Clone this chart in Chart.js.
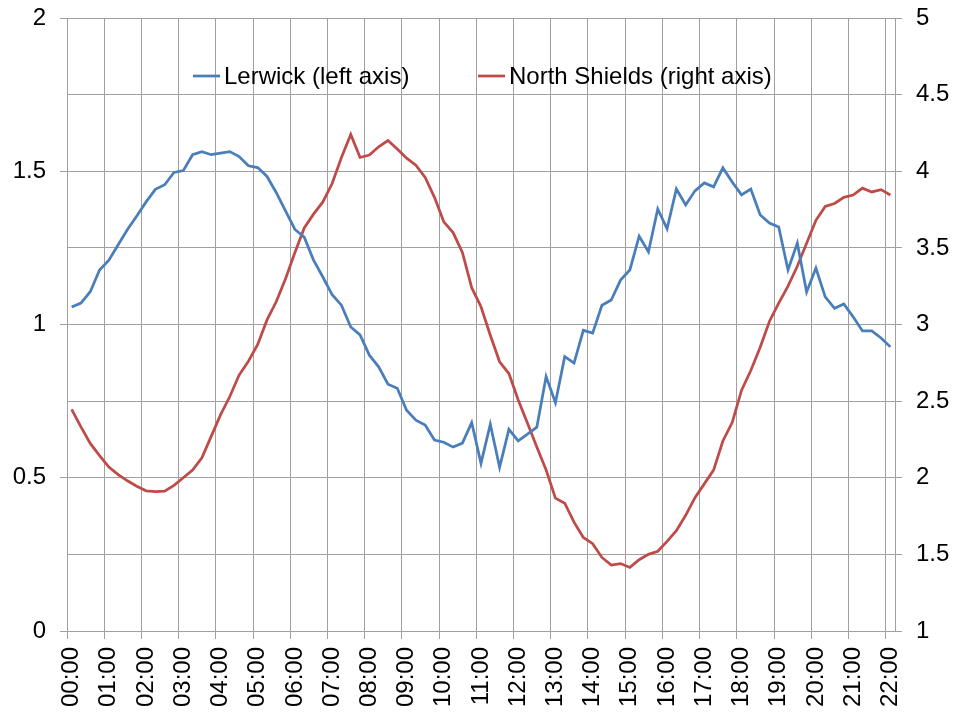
<!DOCTYPE html>
<html>
<head>
<meta charset="utf-8">
<script src="https://cdn.jsdelivr.net/npm/chart.js@4.4.1/dist/chart.umd.min.js"></script>
<style>
  html, body { margin: 0; padding: 0; background: #fff; }
  #wrap { width: 956px; height: 717px; }
</style>
</head>
<body>
<div id="wrap"><canvas id="tideChart" width="956" height="717"></canvas></div>
<script>
// 15-minute readings, 00:00 to 22:00
const times = [
  '00:00', '00:15', '00:30', '00:45', '01:00', '01:15', '01:30', '01:45',
  '02:00', '02:15', '02:30', '02:45', '03:00', '03:15', '03:30', '03:45',
  '04:00', '04:15', '04:30', '04:45', '05:00', '05:15', '05:30', '05:45',
  '06:00', '06:15', '06:30', '06:45', '07:00', '07:15', '07:30', '07:45',
  '08:00', '08:15', '08:30', '08:45', '09:00', '09:15', '09:30', '09:45',
  '10:00', '10:15', '10:30', '10:45', '11:00', '11:15', '11:30', '11:45',
  '12:00', '12:15', '12:30', '12:45', '13:00', '13:15', '13:30', '13:45',
  '14:00', '14:15', '14:30', '14:45', '15:00', '15:15', '15:30', '15:45',
  '16:00', '16:15', '16:30', '16:45', '17:00', '17:15', '17:30', '17:45',
  '18:00', '18:15', '18:30', '18:45', '19:00', '19:15', '19:30', '19:45',
  '20:00', '20:15', '20:30', '20:45', '21:00', '21:15', '21:30', '21:45',
  '22:00'
];

const lerwick = [
  1.057, 1.07, 1.107, 1.178, 1.21, 1.26, 1.31, 1.354,
  1.40, 1.441, 1.456, 1.496, 1.502, 1.554, 1.564, 1.554,
  1.559, 1.564, 1.548, 1.518, 1.512, 1.483, 1.43, 1.37,
  1.31, 1.285, 1.21, 1.155, 1.097, 1.063, 0.992, 0.966,
  0.90, 0.862, 0.805, 0.792, 0.72, 0.688, 0.672, 0.623,
  0.616, 0.60, 0.613, 0.68, 0.547, 0.675, 0.534, 0.658,
  0.62, 0.642, 0.665, 0.83, 0.745, 0.895, 0.874, 0.981,
  0.972, 1.063, 1.08, 1.145, 1.178, 1.288, 1.237, 1.377,
  1.312, 1.442, 1.39, 1.436, 1.462, 1.449, 1.511, 1.465,
  1.423, 1.442, 1.358, 1.331, 1.318, 1.178, 1.266, 1.106,
  1.184, 1.09, 1.053, 1.067, 1.025, 0.979, 0.979, 0.956,
  0.927
];

const northShields = [
  2.446, 2.332, 2.224, 2.145, 2.07, 2.02, 1.98, 1.945,
  1.915, 1.91, 1.912, 1.95, 2.0, 2.05, 2.13, 2.27,
  2.41, 2.53, 2.67, 2.76, 2.87, 3.03, 3.15, 3.30,
  3.47, 3.63, 3.72, 3.80, 3.92, 4.09, 4.24, 4.09,
  4.106, 4.16, 4.20, 4.145, 4.085, 4.04, 3.96, 3.83,
  3.67, 3.60, 3.47, 3.24, 3.116, 2.93, 2.757, 2.68,
  2.507, 2.355, 2.20, 2.05, 1.867, 1.834, 1.71, 1.61,
  1.57, 1.48, 1.43, 1.44, 1.415, 1.465, 1.50, 1.52,
  1.585, 1.655, 1.755, 1.87, 1.96, 2.05, 2.24, 2.36,
  2.57, 2.70, 2.85, 3.02, 3.14, 3.25, 3.38, 3.53,
  3.68, 3.77, 3.79, 3.83, 3.845, 3.89, 3.865, 3.88,
  3.845
];

const leftTicks = [0, 0.5, 1, 1.5, 2];
const rightTicks = [1, 1.5, 2, 2.5, 3, 3.5, 4, 4.5, 5];

const BLUE = '#4a7ebb';
const RED = '#be4b48';
const GRID = '#a0a0a0';

Chart.defaults.font.family = '"Liberation Sans", Arial, sans-serif';
Chart.defaults.font.size = 24;
Chart.defaults.color = '#000';

// legend drawn inside the plot, like the Excel original
const insideLegend = {
  id: 'insideLegend',
  afterDraw(chart) {
    const ctx = chart.ctx;
    const starts = [193, 478];
    const y = 76;
    ctx.save();
    ctx.font = '24px "Liberation Sans", Arial, sans-serif';
    ctx.textBaseline = 'middle';
    ctx.fillStyle = '#000';
    chart.data.datasets.forEach((ds, i) => {
      const x = starts[i];
      ctx.strokeStyle = ds.borderColor;
      ctx.lineWidth = 2.75;
      ctx.beginPath();
      ctx.moveTo(x, y);
      ctx.lineTo(x + 27, y);
      ctx.stroke();
      ctx.fillText(ds.label, x + 31, y + 1);
    });
    ctx.restore();
  }
};

const gridEvery4 = c => (c.index % 4 === 0 ? GRID : 'rgba(0,0,0,0)');

// fixed axis sizes so the plot area sits where the original one does
const fitY = w => s => { s.width = w; s.paddingTop = 0; s.paddingBottom = 0; };

new Chart(document.getElementById('tideChart'), {
  type: 'line',
  data: {
    labels: times,
    datasets: [
      {
        label: 'Lerwick (left axis)',
        data: lerwick,
        yAxisID: 'y',
        borderColor: BLUE,
        borderWidth: 2.75,
        pointRadius: 0,
        tension: 0,
        fill: false
      },
      {
        label: 'North Shields (right axis)',
        data: northShields,
        yAxisID: 'y1',
        borderColor: RED,
        borderWidth: 2.75,
        pointRadius: 0,
        tension: 0,
        fill: false
      }
    ]
  },
  options: {
    responsive: false,
    animation: false,
    layout: { padding: { top: 18, left: 0, right: 0, bottom: 0 } },
    plugins: {
      legend: { display: false },
      tooltip: { enabled: false }
    },
    scales: {
      x: {
        type: 'category',
        offset: true,
        grid: {
          offset: true,
          color: gridEvery4,
          tickColor: gridEvery4,
          tickLength: 8,
          lineWidth: 1
        },
        border: { display: true, color: GRID },
        ticks: {
          autoSkip: false,
          maxRotation: 90,
          minRotation: 90,
          padding: 8,
          callback: (v, i) => (i % 4 === 0 ? times[i] : '')
        },
        afterFit: s => { s.height = 86; }
      },
      y: {
        position: 'left',
        min: 0,
        max: 2,
        afterBuildTicks: s => { s.ticks = leftTicks.map(v => ({ value: v })); },
        ticks: { padding: 14, callback: v => String(v) },
        grid: { drawOnChartArea: false, color: GRID, tickLength: 7 },
        border: { display: true, color: GRID },
        afterFit: fitY(67)
      },
      y1: {
        position: 'right',
        min: 1,
        max: 5,
        afterBuildTicks: s => { s.ticks = rightTicks.map(v => ({ value: v })); },
        ticks: { padding: 14, callback: v => String(v) },
        grid: { drawOnChartArea: true, color: GRID, tickLength: 7 },
        border: { display: true, color: GRID },
        afterFit: fitY(61)
      }
    }
  },
  plugins: [insideLegend]
});
</script>
</body>
</html>
